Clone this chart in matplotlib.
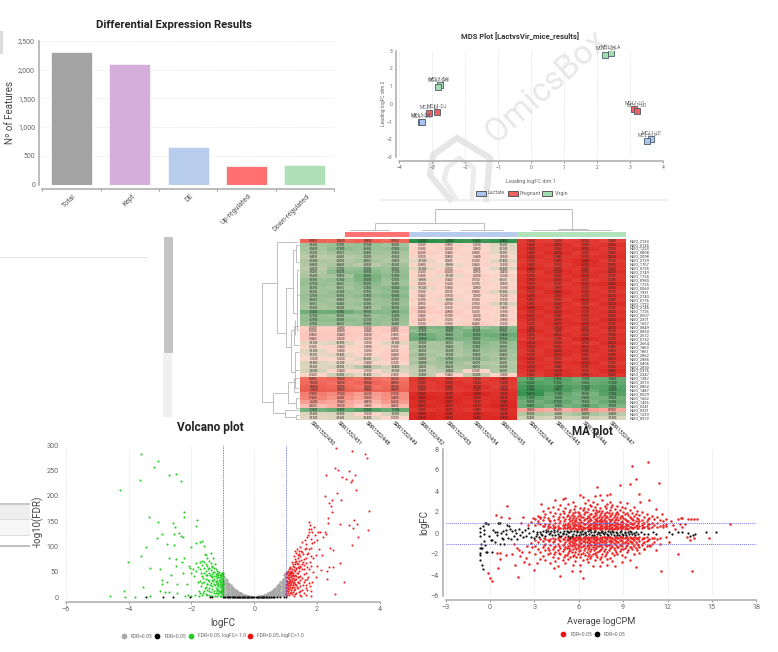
import matplotlib
matplotlib.use("Agg")
import matplotlib.pyplot as plt
from matplotlib.colors import LinearSegmentedColormap
from matplotlib.patches import Rectangle, Polygon

plt.rcParams['font.family'] = ['Roboto', 'DejaVu Sans']

W, H = 778, 652

# bar chart
bar_labels = ["Total", "Kept", "DE", "Up-regulated", "Down-regulated"]
bar_values = [2300, 2100, 660, 315, 345]
bar_colors = ["#a3a3a3", "#d6aedb", "#b8cdee", "#ff7070", "#b0e0b8"]

# MDS plot
mds_lactate = [(-3.33, -1.0, "MCL1-DK"), (-3.32, -1.02, "MCL1-DL"), (3.65, -2.0, "MCL1-LE"), (3.52, -2.1, "MCL1-LF")]
mds_pregnant = [(-3.1, -0.5, "MCL1-DI"), (-2.85, -0.45, "MCL1-DJ"), (3.13, -0.3, "MCL1-LC"), (3.2, -0.42, "MCL1-LD")]
mds_virgin = [(-2.78, 1.08, "MCL1-DG"), (-2.83, 0.97, "MCL1-DH"), (2.25, 2.78, "MCL1-LB"), (2.42, 2.88, "MCL1-LA")]

# heatmap
heat_values = [
    [0.95, 0.92, 0.98, 0.90, -1.52, -1.45, -1.38, -1.44, 1.30, 1.28, 1.33, 1.26],
    [-0.62, -0.70, -0.72, -0.65, 0.12, 0.18, 0.10, -0.16, 1.36, 1.40, 1.32, 1.38],
    [-0.58, -0.78, -0.68, -0.74, 0.15, 0.20, 0.08, -0.12, 1.38, 1.35, 1.40, 1.33],
    [-0.52, -0.60, -0.64, -0.58, 0.22, 0.14, 0.18, -0.10, 1.34, 1.42, 1.30, 1.36],
    [-0.40, -0.46, -0.52, -0.55, 0.10, 0.08, 0.16, 0.05, 1.40, 1.34, 1.37, 1.42],
    [-0.55, -0.50, -0.60, -0.48, -0.12, 0.06, 0.12, -0.14, 1.32, 1.38, 1.44, 1.30],
    [-0.48, -0.56, -0.45, -0.62, 0.18, -0.08, 0.14, 0.10, 1.36, 1.30, 1.41, 1.39],
    [-0.42, -0.70, -0.76, -0.68, -0.15, 0.10, 0.06, -0.18, 1.44, 1.37, 1.34, 1.35],
    [-0.50, -0.82, -0.85, -0.72, 0.12, 0.22, 0.09, 0.04, 1.31, 1.43, 1.38, 1.40],
    [-0.55, -0.58, -0.96, -0.78, 0.16, -0.10, 0.20, 0.12, 1.37, 1.35, 1.42, 1.33],
    [-0.68, -0.75, -0.92, -0.70, -0.08, 0.14, 0.11, -0.06, 1.39, 1.41, 1.30, 1.37],
    [-0.72, -0.66, -0.80, -0.64, 0.20, 0.12, 0.17, 0.09, 1.35, 1.32, 1.40, 1.44],
    [-0.65, -0.60, -0.74, -0.82, -0.12, 0.16, 0.08, 0.13, 1.42, 1.36, 1.33, 1.38],
    [-0.62, -0.72, -0.70, -0.76, 0.10, 0.07, 0.18, -0.15, 1.33, 1.44, 1.37, 1.31],
    [-0.70, -0.68, -0.78, -0.85, 0.14, 0.19, 0.05, 0.12, 1.40, 1.38, 1.35, 1.41],
    [-0.66, -0.58, -0.64, -0.72, 0.17, -0.09, 0.13, 0.11, 1.36, 1.31, 1.43, 1.34],
    [-0.60, -0.64, -0.70, -0.68, 0.09, 0.21, 0.15, -0.17, 1.38, 1.40, 1.30, 1.42],
    [-0.55, -0.62, -0.58, -0.80, 0.24, 0.10, 0.19, 0.16, 1.44, 1.36, 1.39, 1.33],
    [-1.02, -1.05, -0.90, -0.86, 0.30, 0.28, 0.12, 0.15, 1.35, 1.42, 1.37, 1.40],
    [-0.72, -0.68, -0.66, -0.74, 0.14, 0.17, 0.20, 0.08, 1.41, 1.34, 1.38, 1.36],
    [-0.78, -0.80, -0.72, -0.70, 0.22, 0.12, 0.16, 0.18, 1.37, 1.39, 1.33, 1.43],
    [-0.70, -0.66, -0.76, -0.64, 0.11, 0.15, 0.24, 0.10, 1.32, 1.40, 1.42, 1.35],
    [0.22, 0.26, 0.30, 0.24, -0.88, -0.92, -0.70, -0.82, 1.34, 1.38, 1.30, 1.41],
    [0.32, 0.28, 0.24, 0.36, -0.78, -0.84, -0.96, -0.90, 1.42, 1.36, 1.37, 1.33],
    [0.38, 0.34, 0.30, 0.18, -0.98, -0.86, -1.02, -1.04, 1.36, 1.40, 1.35, 1.39],
    [0.34, 0.30, 0.22, 0.28, -1.05, -0.90, -0.88, -0.95, 1.30, 1.33, 1.44, 1.37],
    [-0.12, -0.18, 0.10, -0.15, -0.55, -0.60, -0.82, -0.70, 1.40, 1.37, 1.31, 1.42],
    [0.12, 0.14, 0.18, 0.10, -0.62, -0.58, -0.74, -0.68, 1.38, 1.35, 1.40, 1.34],
    [-0.15, 0.16, 0.12, 0.20, -0.50, -0.55, -0.66, -0.62, 1.33, 1.43, 1.39, 1.36],
    [-0.10, -0.14, 0.10, 0.24, -0.60, -0.52, -0.58, -0.54, 1.37, 1.41, 1.34, 1.38],
    [0.10, 0.12, -0.16, 0.26, -0.48, -0.70, -0.72, -0.60, 1.43, 1.30, 1.36, 1.40],
    [-0.18, -0.12, 0.14, 0.10, -0.58, -0.62, -0.50, -0.46, 1.35, 1.38, 1.42, 1.32],
    [-0.16, -0.20, -0.42, -0.24, -0.40, -0.56, -0.60, -0.52, 1.41, 1.34, 1.37, 1.39],
    [-0.22, 0.14, 0.10, -0.18, -0.36, -0.44, 0.12, -0.50, 1.36, 1.40, 1.33, 1.44],
    [0.12, -0.30, -0.14, 0.16, -0.34, 0.14, -0.32, 0.16, 1.30, 1.42, 1.38, 1.35],
    [0.88, 0.92, 0.85, 0.82, 1.35, 1.30, 1.28, 1.36, -1.10, -1.18, -1.02, -1.08],
    [0.90, 0.86, 0.95, 0.88, 1.28, 1.38, 1.32, 1.30, -1.22, -1.15, -1.06, -1.12],
    [0.96, 0.90, 0.84, 0.92, 1.30, 1.34, 1.40, 1.28, -1.30, -1.26, -1.18, -1.20],
    [1.02, 0.98, 0.94, 0.96, 1.26, 1.30, 1.34, 1.38, -1.38, -1.28, -1.10, -1.24],
    [0.78, 0.72, 0.62, 0.70, 1.45, 1.42, 1.48, 1.40, -1.42, -1.10, -0.96, -1.20],
    [0.74, 0.66, 0.58, 0.68, 1.48, 1.44, 1.40, 1.42, -1.15, -1.02, -1.00, -0.98],
    [0.60, 0.54, 0.48, 0.62, 1.42, 1.46, 1.38, 1.44, -1.00, -1.12, -0.92, -1.06],
    [0.42, 0.50, 0.36, 0.46, 1.46, 1.40, 1.42, 1.48, -1.08, -0.94, -1.04, -0.90],
    [-1.00, -1.08, -1.22, -1.10, 1.36, 1.40, 1.34, 1.38, 0.58, 0.52, 0.60, 0.55],
    [-0.14, -0.18, 0.10, -0.20, 1.48, 1.44, 1.46, 1.42, -0.52, -0.46, -0.58, -0.44],
    [-0.12, -0.16, -0.14, 0.10, 1.50, 1.46, 1.44, 1.48, -0.24, -0.20, -0.26, -0.18],
]
heat_samples = ["SRR1552450", "SRR1552451", "SRR1552448", "SRR1552449", "SRR1552452", "SRR1552453",
                "SRR1552454", "SRR1552455", "SRR1552444", "SRR1552445", "SRR1552446", "SRR1552447"]
heat_genes = ["NEIO_2133", "NEIO_0134", "NEIO_1223", "NEIO_0808", "NEIO_2098", "NEIO_2729", "NEIO_1707", "NEIO_0735",
              "NEIO_2749", "NEIO_1724", "NEIO_0983", "NEIO_1725", "NEIO_0060", "NEIO_1931", "NEIO_2743", "NEIO_0776",
              "NEIO_1722", "NEIO_2745", "NEIO_1726", "NEIO_0507", "NEIO_2371", "NEIO_1657", "NEIO_0849", "NEIO_0853",
              "NEIO_2612", "NEIO_0752", "NEIO_2664", "NEIO_1863", "NEIO_1861", "NEIO_2862", "NEIO_2885", "NEIO_0406",
              "NEIO_2830", "NEIO_2376", "NEIO_2247", "NEIO_1387", "NEIO_2013", "NEIO_0862", "NEIO_1487", "NEIO_0029",
              "NEIO_1662", "NEIO_1426", "NEIO_0241", "NEIO_0321", "NEIO_1229", "NEIO_0972"]

# dendrogram branches, page pixels (x0, y0, x1, y1)
col_tree = [(435, 209, 572, 209), (435, 209, 435, 222.7), (572, 209, 572, 230), (375, 222.7, 484, 222.7),
            (375, 222.7, 375, 230), (484, 222.7, 484, 230), (350, 230, 390, 230), (422, 230, 450, 230),
            (460, 230, 503, 230), (531, 230, 612, 230), (558, 228.5, 588, 228.5)]
row_tree = [(262, 283, 262, 402), (262, 283, 277, 283), (277, 242, 277, 333), (277, 242, 298, 242),
            (277, 333, 286, 333), (286, 288, 286, 347), (286, 288, 293, 288), (293, 250, 293, 313),
            (293, 250, 296, 250), (296, 245, 296, 262), (296, 245, 299, 245), (296, 262, 299, 262),
            (293, 313, 297, 313), (297, 270, 297, 330), (297, 270, 299, 270), (297, 295, 299, 295),
            (297, 330, 299, 330), (295, 320, 295, 335), (286, 347, 291, 347), (291, 330, 291, 372),
            (291, 330, 294, 330), (294, 326, 294, 345), (294, 326, 299, 326), (294, 345, 299, 345),
            (291, 372, 295, 372), (295, 352, 295, 388), (295, 352, 299, 352), (295, 370, 299, 370),
            (295, 388, 299, 388), (262, 402, 273, 402), (273, 393, 273, 413), (273, 393, 288, 393),
            (288, 382, 288, 403), (288, 382, 294, 382), (294, 378, 294, 392), (294, 378, 299, 378),
            (294, 392, 299, 392), (288, 403, 296, 403), (296, 398, 296, 408), (296, 398, 299, 398),
            (296, 408, 299, 408), (273, 413, 285, 413), (285, 410, 285, 417), (285, 410, 299, 410),
            (285, 417, 296, 417), (296, 415, 296, 419), (296, 415, 299, 415), (296, 419, 299, 419)]

# volcano plot
volcano_green = [(-4.58, 3), (-4.27, 212), (-4.13, 13), (-4.1, 1), (-4.02, 69), (-3.8, 1), (-3.62, 283), (-3.64, 232),
    (-3.61, 81), (-3.55, 20), (-3.44, 99), (-3.36, 159), (-3.33, 58), (-3.33, 2), (-3.19, 257), (-3.1, 117),
    (-3.07, 269), (-3.06, 148), (-3.0, 13), (-2.99, 56), (-2.95, 125), (-2.94, 35), (-2.93, 27), (-2.85, 10),
    (-2.79, 105), (-2.78, 31), (-2.72, 241), (-2.7, 78), (-2.65, 43), (-2.7, 10), (-2.6, 147), (-2.57, 103),
    (-2.55, 125), (-2.52, 138), (-2.5, 242), (-2.5, 76), (-2.48, 62), (-2.45, 26), (-2.45, 8), (-2.38, 126),
    (-2.33, 121), (-2.32, 230), (-2.31, 70), (-2.27, 119), (-2.28, 48), (-2.25, 158), (-2.24, 169), (-2.25, 78),
    (-2.2, 3), (-2.15, 27), (-2.12, 4), (-2.09, 62), (-2.06, 58), (-2.02, 100), (-2.0, 48), (-2.0, 2), (-1.95, 55),
    (-1.93, 42), (-1.9, 4), (-1.87, 106), (-1.85, 141), (-1.83, 152), (-1.85, 68), (-1.84, 51), (-1.8, 60), (-1.78, 30),
    (-1.77, 12), (-1.75, 3), (-1.72, 108), (-1.72, 70), (-1.7, 47), (-1.68, 22), (-1.65, 111), (-1.65, 72), (-1.63, 38),
    (-1.62, 8), (-1.61, 102), (-1.6, 58), (-1.58, 86), (-1.57, 18), (-1.55, 83), (-1.55, 44), (-1.53, 66), (-1.52, 27),
    (-1.5, 5), (-1.5, 78), (-1.48, 35), (-1.47, 55), (-1.45, 12), (-1.43, 72), (-1.42, 44), (-1.4, 24), (-1.38, 88),
    (-1.38, 3), (-1.36, 60), (-1.35, 40), (-1.34, 16), (-1.32, 78), (-1.31, 33), (-1.3, 50), (-1.29, 8), (-1.27, 42),
    (-1.26, 24), (-1.25, 65), (-1.24, 2), (-1.22, 46), (-1.21, 30), (-1.2, 14), (-1.19, 38), (-1.18, 52), (-1.17, 22),
    (-1.16, 6), (-1.15, 44), (-1.14, 28), (-1.13, 35), (-1.12, 12), (-1.11, 50), (-1.1, 20), (-1.1, 40), (-1.09, 3),
    (-1.08, 30), (-1.07, 46), (-1.07, 15), (-1.06, 25), (-1.05, 38), (-1.05, 8), (-1.04, 48), (-1.04, 18), (-1.03, 32),
    (-1.03, 42), (-1.02, 22), (-1.02, 12), (-1.01, 36), (-1.01, 28), (-1.01, 4), (-1.0, 45), (-1.0, 16), (-1.0, 26)]
# dense part of the green and red clouds, one x with the y values read above it
volcano_green_cloud = [(-1.72, [9, 33, 55]), (-1.66, [4, 28, 41, 63]), (-1.59, [12, 31, 48, 70]), (-1.54, [7, 21, 36, 52]),
    (-1.49, [14, 26, 44, 62]), (-1.44, [5, 19, 33, 47, 58]), (-1.39, [10, 29, 41, 53, 67]), (-1.33, [3, 22, 35, 46, 62]),
    (-1.28, [13, 27, 37, 49, 57]), (-1.23, [8, 18, 32, 41, 55]), (-1.18, [3, 12, 27, 33, 46]), (-1.14, [8, 17, 24, 40, 47]),
    (-1.09, [11, 26, 34, 44]), (-1.06, [3, 13, 21, 31, 43]), (-1.03, [7, 15, 27, 37, 47]), (-1.01, [10, 19, 24, 33, 41])]
volcano_red_cloud = [(1.02, [8, 15, 25, 40]), (1.04, [5, 18, 33, 47]), (1.07, [12, 22, 29, 52]), (1.1, [4, 17, 37, 43]),
    (1.13, [9, 21, 30, 50, 58]), (1.16, [14, 26, 40, 47]), (1.19, [6, 19, 32, 44, 55]), (1.22, [11, 24, 38, 48, 66]),
    (1.26, [3, 21, 30, 42, 60]), (1.3, [16, 27, 37, 52, 70]), (1.34, [8, 24, 42, 55, 72]), (1.38, [19, 31, 48, 66, 84]),
    (1.42, [11, 28, 40, 58, 92]), (1.47, [5, 22, 35, 60, 82]), (1.52, [15, 38, 66, 90]), (1.57, [9, 30, 56, 76]),
    (1.63, [4, 24, 48, 68, 98]), (1.68, [14, 36, 85, 118]), (1.74, [28, 55, 96, 128]), (1.82, [12, 62, 98, 134])]
volcano_red = [(1.01, 4), (1.01, 20), (1.02, 46), (1.02, 34), (1.03, 27), (1.03, 12), (1.04, 40), (1.05, 30), (1.05, 50),
    (1.06, 18), (1.07, 38), (1.07, 44), (1.08, 24), (1.08, 8), (1.09, 33), (1.1, 48), (1.1, 28), (1.11, 56), (1.12, 40),
    (1.12, 16), (1.13, 35), (1.14, 46), (1.15, 24), (1.15, 60), (1.16, 30), (1.17, 52), (1.18, 42), (1.18, 10), (1.19, 70),
    (1.2, 36), (1.2, 20), (1.21, 50), (1.22, 28), (1.23, 62), (1.24, 44), (1.25, 82), (1.25, 34), (1.26, 14), (1.27, 54),
    (1.28, 92), (1.28, 26), (1.29, 66), (1.3, 44), (1.3, 6), (1.31, 76), (1.32, 36), (1.33, 58), (1.34, 88), (1.35, 48),
    (1.35, 20), (1.36, 68), (1.37, 96), (1.38, 40), (1.39, 60), (1.4, 78), (1.4, 30), (1.41, 52), (1.42, 72), (1.43, 86),
    (1.44, 12), (1.45, 62), (1.46, 100), (1.47, 42), (1.48, 74), (1.5, 92), (1.5, 3), (1.52, 56), (1.53, 108), (1.54, 70),
    (1.55, 25), (1.56, 85), (1.58, 46), (1.59, 64), (1.6, 112), (1.61, 95), (1.62, 34), (1.64, 78), (1.65, 18), (1.66, 105),
    (1.68, 60), (1.7, 122), (1.71, 88), (1.72, 40), (1.74, 135), (1.75, 148), (1.76, 70), (1.77, 142), (1.78, 22), (1.79, 115),
    (1.8, 3), (1.81, 82), (1.83, 30), (1.84, 128), (1.85, 106), (1.87, 50), (1.88, 78), (1.9, 138), (1.91, 108), (1.93, 122),
    (1.95, 84), (1.96, 40), (1.98, 112), (2.0, 62), (2.02, 128), (2.05, 96), (2.08, 128), (2.13, 54), (2.16, 84), (2.2, 118),
    (2.24, 128), (2.26, 199), (2.27, 124), (2.28, 240), (2.3, 52), (2.32, 36), (2.35, 147), (2.36, 156), (2.37, 60), (2.39, 186),
    (2.42, 98), (2.43, 180), (2.46, 168), (2.46, 192), (2.5, 93), (2.52, 60), (2.57, 255), (2.57, 6), (2.61, 295), (2.63, 205),
    (2.65, 251), (2.72, 68), (2.74, 145), (2.75, 192), (2.78, 236), (2.85, 31), (2.91, 234), (3.01, 249), (3.02, 142), (3.07, 227),
    (3.1, 289), (3.1, 232), (3.1, 103), (3.15, 137), (3.17, 153), (3.21, 240), (3.25, 211), (3.27, 144), (3.3, 119), (3.53, 282),
    (3.6, 275), (3.62, 132), (3.64, 170)]
volcano_black = [(-3.45, 0), (-2.9, 0), (-2.58, 0), (-2.06, 0), (-1.4, 0), (-1.36, 1), (-1.0, 0), (-0.96, 1), (-0.92, 0),
    (-0.88, 0), (-0.84, 1), (-0.8, 0), (-0.76, 0), (-0.72, 1), (-0.68, 0), (-0.64, 0), (-0.6, 0), (-0.56, 0), (-0.52, 1),
    (-0.48, 0), (-0.44, 0), (-0.4, 0), (-0.36, 0), (-0.32, 0), (-0.28, 0), (-0.24, 0), (-0.2, 0), (-0.16, 0), (-0.12, 0),
    (-0.08, 0), (-0.04, 0), (0.0, 0), (0.04, 0), (0.08, 0), (0.12, 0), (0.16, 0), (0.2, 0), (0.24, 0), (0.28, 0),
    (0.32, 0), (0.38, 0), (0.42, 1), (0.46, 0), (0.52, 0), (0.58, 0), (0.64, 0), (0.72, 0), (0.82, 0), (0.95, 0), (1.0, 1)]
# gray cloud, one x with the y values read above it
volcano_gray = [(-0.99, [47, 41, 35, 28, 22, 16, 10]), (-0.95, [40, 33, 29, 24, 18, 13, 7]), (-0.91, [36, 31, 26, 20, 15, 9, 5]),
    (-0.87, [34, 27, 23, 18, 14, 8, 4]), (-0.83, [29, 25, 21, 16, 11, 7, 3]), (-0.79, [26, 22, 18, 15, 10, 6, 3]),
    (-0.75, [24, 20, 16, 13, 9, 5, 2]), (-0.71, [21, 18, 15, 11, 8, 5, 2]), (-0.67, [19, 16, 13, 10, 7, 4, 2]),
    (-0.63, [17, 14, 11, 9, 6, 3, 1]), (-0.59, [15, 12, 10, 8, 5, 3, 1]), (-0.55, [13, 11, 9, 7, 4, 2, 1]),
    (-0.51, [11, 9, 7, 6, 4, 2, 1]), (-0.47, [9, 8, 6, 5, 3, 2, 1]), (-0.43, [8, 6, 5, 4, 3, 1]), (-0.39, [7, 5, 4, 3, 2, 1]),
    (-0.35, [5, 4, 3, 2, 1]), (-0.31, [4, 3, 2, 2, 1]), (-0.27, [3, 3, 2, 1]), (-0.23, [3, 2, 1, 1]), (-0.19, [2, 1, 1]),
    (-0.15, [2, 1, 1]), (-0.11, [1, 1]), (0.11, [1, 1]), (0.15, [2, 1, 1]), (0.19, [2, 2, 1]), (0.23, [3, 2, 1]), (0.27, [3, 2, 1, 1]),
    (0.31, [4, 3, 2, 1]), (0.35, [5, 4, 3, 2, 1]), (0.39, [6, 5, 4, 2, 1]), (0.43, [8, 6, 5, 3, 2, 1]), (0.47, [9, 7, 6, 4, 3, 1]),
    (0.51, [10, 9, 7, 5, 4, 2, 1]), (0.55, [12, 10, 8, 6, 4, 2, 1]), (0.59, [14, 12, 9, 7, 5, 3, 1]), (0.63, [16, 13, 11, 8, 6, 3, 1]),
    (0.67, [19, 16, 12, 9, 7, 4, 2]), (0.71, [22, 18, 14, 11, 8, 5, 2]), (0.75, [24, 20, 16, 12, 9, 5, 2]), (0.79, [26, 23, 18, 14, 10, 6, 3]),
    (0.83, [30, 25, 21, 16, 11, 7, 3]), (0.87, [33, 28, 23, 18, 13, 8, 4]), (0.91, [37, 31, 26, 20, 15, 9, 4]), (0.95, [44, 36, 29, 22, 16, 10, 5]),
    (0.99, [48, 40, 33, 26, 19, 12, 6])]

# MA plot
ma_red_sparse = [(10.68, 6.8), (9.62, 6.4), (9.89, 5.15), (8.78, 4.6), (9.46, 4.65), (11.42, 4.75), (7.2, 4.35), (10.05, 3.7), (10.77, 3.15),
    (10.15, 3.0), (1.12, 2.55), (3.47, 2.8), (0.4, 1.75), (0.72, 1.5), (1.28, 1.4), (2.2, 1.5), (2.9, 1.4), (3.35, 1.55), (11.2, 2.3),
    (11.6, 1.8), (11.9, 0.9), (12.2, 1.1), (12.4, 0.8), (12.7, 1.3), (12.9, 1.4), (13.0, 1.45), (13.4, 1.3), (13.6, 1.3), (13.8, 1.35),
    (14.0, 1.3), (16.2, 0.85), (14.8, -0.5), (13.3, -0.4), (13.0, 0.6), (12.7, -2.0), (11.55, -3.65), (13.65, -3.65), (9.9, -3.2), (6.3, -4.3),
    (4.7, -4.05), (1.9, -4.2), (0.15, -4.55), (0.0, -4.25), (-0.15, -3.8), (2.95, -3.55), (5.55, -3.65), (6.1, -3.6), (4.3, -3.3), (0.55, -3.3),
    (1.7, -3.0), (2.6, -2.95), (2.3, -2.8), (3.2, -2.9), (12.1, -0.85), (11.2, -1.65), (10.8, -1.2), (10.4, -1.5), (0.65, -2.5), (0.7, -1.9),
    (1.1, -2.1), (1.5, -2.0), (1.8, -1.4), (2.15, -1.8), (2.4, -2.4), (0.45, -1.95), (13.2, 0.9), (12.5, 0.4), (12.85, 0.9), (13.5, -0.7), (13.8, -0.5),
    (1.62, -1.05), (1.95, -1.62), (2.05, -2.15), (2.48, -1.2), (2.62, -1.78), (2.75, -0.95), (2.82, -1.35), (2.12, 0.92), (2.58, 0.78), (2.78, 1.05)]
# dense red cloud, one x with the y values read above it
ma_red_cloud = [(3.03, [1.3, 0.8, -0.7, -1.2, -2.0]), (3.21, [1.6, 1.1, -0.9, -1.5, 1.0]), (3.38, [0.9, -0.6, -1.8, -2.5, 1.4]),
    (3.56, [2.1, 1.2, 0.7, -0.8, -1.3, -2.2]), (3.72, [1.8, 0.9, -0.6, -1.0, -1.6, -2.6]), (3.9, [1.4, 0.7, 0.5, -0.7, -1.4, -2.0, 2.4]),
    (4.07, [2.0, 1.1, 0.6, -0.6, -1.1, -1.9, -2.9]), (4.23, [2.5, 1.6, 0.8, 0.5, -0.5, -0.9, -1.5, -2.3]), (4.41, [3.1, 1.9, 1.0, 0.6, -0.6, -1.2, -1.8, -2.7]),
    (4.58, [2.3, 1.3, 0.7, 0.4, -0.5, -1.0, -1.6, -2.4, -3.1]), (4.74, [2.7, 1.8, 1.1, 0.5, -0.4, -0.8, -1.4, -2.0]), (4.92, [3.2, 2.1, 1.5, 0.8, 0.5, -0.6, -1.1, -1.7, -2.6]),
    (5.08, [3.3, 2.4, 1.3, 0.9, 0.5, -0.4, -0.9, -1.3, -2.1, -2.9]), (5.25, [2.8, 1.7, 1.0, 0.6, -0.5, -0.7, -1.2, -1.9, -2.5]), (5.43, [2.2, 1.5, 1.1, 0.7, 0.4, -0.4, -0.8, -1.1, -1.6, -2.3]),
    (5.6, [3.0, 1.9, 1.4, 0.8, 0.5, -0.4, -0.7, -1.0, -1.5, -2.2, -3.0]), (5.76, [2.6, 2.0, 1.2, 0.9, 0.5, -0.5, -0.8, -1.3, -1.8, -2.7]), (5.93, [2.0, 1.6, 1.0, 0.7, 0.4, -0.4, -0.6, -1.1, -1.4, -2.0]),
    (6.1, [3.6, 2.4, 1.7, 1.2, 0.8, 0.5, -0.4, -0.7, -1.0, -1.6, -2.3, -3.0]), (6.26, [3.4, 2.2, 1.5, 1.0, 0.6, 0.4, -0.5, -0.8, -1.2, -1.9, -2.6]), (6.43, [2.9, 2.0, 1.3, 0.9, 0.5, -0.4, -0.6, -0.9, -1.4, -2.1]),
    (6.6, [3.1, 2.3, 1.6, 1.1, 0.7, 0.4, -0.4, -0.7, -1.1, -1.5, -2.2, -2.8]), (6.76, [2.7, 1.8, 1.3, 0.9, 0.6, 0.4, -0.5, -0.8, -1.0, -1.7, -2.4]), (6.93, [3.0, 2.2, 1.5, 1.0, 0.7, 0.5, -0.4, -0.6, -0.9, -1.3, -2.0, -3.1]),
    (7.1, [3.5, 2.5, 1.9, 1.3, 0.9, 0.6, 0.4, -0.4, -0.7, -1.0, -1.4, -1.9, -2.6]), (7.26, [2.8, 2.0, 1.4, 1.1, 0.8, 0.5, -0.4, -0.6, -0.9, -1.2, -1.8, -2.3]), (7.43, [3.6, 2.4, 1.7, 1.2, 0.9, 0.6, 0.4, -0.5, -0.8, -1.1, -1.6, -2.5, -3.1]),
    (7.6, [3.1, 2.1, 1.5, 1.1, 0.8, 0.5, -0.4, -0.6, -0.9, -1.3, -2.0, -2.8]), (7.76, [2.6, 1.9, 1.4, 1.0, 0.7, 0.4, -0.4, -0.7, -1.0, -1.5, -2.2]), (7.93, [3.6, 2.8, 2.0, 1.5, 1.0, 0.7, 0.5, -0.4, -0.6, -1.1, -1.8, -2.5, -3.0]),
    (8.1, [3.7, 3.0, 2.2, 1.6, 1.1, 0.8, 0.5, -0.4, -0.7, -1.0, -1.4, -2.4]), (8.26, [2.7, 1.9, 1.3, 0.9, 0.6, 0.4, -0.5, -0.8, -1.2, -1.9, -2.7]), (8.43, [2.3, 1.7, 1.2, 0.8, 0.5, -0.4, -0.7, -1.0, -1.6, -3.1]),
    (8.6, [2.6, 2.0, 1.5, 1.0, 0.7, 0.4, -0.5, -0.9, -1.3, -2.0]), (8.76, [3.0, 2.2, 1.4, 0.9, 0.6, -0.4, -0.7, -1.1, -1.7]), (8.93, [2.5, 1.6, 1.1, 0.8, 0.5, -0.4, -0.8, -1.2, -2.1, -2.8]),
    (9.1, [2.4, 1.8, 1.3, 0.7, 0.4, -0.5, -0.9, -1.4, -2.3]), (9.26, [2.9, 1.9, 1.1, 0.8, 0.5, -0.4, -0.7, -1.1, -1.8]), (9.43, [2.2, 1.5, 1.0, 0.6, -0.4, -0.8, -1.3, -2.6]),
    (9.6, [1.9, 1.3, 0.9, 0.5, -0.5, -0.9, -1.5]), (9.76, [2.5, 1.6, 1.0, 0.6, -0.4, -0.7, -1.2, -2.0]), (9.93, [2.1, 1.4, 0.8, 0.5, -0.5, -1.0, -1.6]),
    (10.1, [1.7, 1.1, 0.7, -0.4, -0.8, -1.3, -1.9]), (10.26, [2.0, 1.2, 0.8, 0.5, -0.6, -1.1]), (10.43, [1.5, 1.0, 0.6, -0.5, -0.9, -1.5]),
    (10.6, [1.8, 1.1, 0.7, -0.4, -0.8, -1.2]), (10.76, [1.4, 0.9, 0.5, -0.6, -1.1]), (10.93, [1.6, 1.0, 0.6, -0.5, -1.0]), (11.1, [1.3, 0.8, -0.5, -0.9]),
    (11.3, [1.5, 1.0, 0.6, -0.6]), (11.5, [1.2, 0.7, -0.5, -1.0]), (11.7, [1.1, 0.6, 0.8]), (11.9, [1.3, 0.7, -0.4])]
# second pass over the densest part, between the columns above
ma_red_cloud_b = [(3.63, [0.63, -0.47, 1.53, -1.17]), (3.97, [0.83, -0.77, 1.27, -1.63]), (4.33, [0.58, 1.23, -0.73, -1.37, -2.03]),
    (4.66, [0.47, 0.96, 1.57, -0.67, -1.23, -1.87]), (5.0, [0.66, 1.17, 1.86, -0.53, -1.03, -1.57, -2.27]), (5.17, [0.43, 0.77, 1.63, -0.63, -1.47, -2.13]),
    (5.34, [0.57, 0.87, 1.36, 2.03, -0.57, -0.93, -1.43, -1.76]), (5.51, [0.46, 0.97, 1.26, 1.73, -0.48, -0.87, -1.27, -1.83]), (5.68, [0.63, 1.07, 1.66, 2.27, -0.56, -0.96, -1.17, -2.06]),
    (5.84, [0.36, 0.76, 1.13, 1.47, -0.36, -0.66, -1.06, -1.53, -2.33]), (6.02, [0.57, 0.93, 1.36, 1.93, -0.47, -0.83, -1.27, -1.73]), (6.18, [0.38, 0.66, 1.06, 1.57, -0.58, -0.93, -1.37, -2.03]),
    (6.35, [0.46, 0.86, 1.23, 1.77, 2.37, -0.36, -0.73, -1.13, -1.62]), (6.52, [0.56, 0.97, 1.43, 1.96, -0.46, -0.86, -1.27, -1.83, -2.47]), (6.68, [0.36, 0.77, 1.17, 1.56, -0.56, -0.96, -1.36, -1.97]),
    (6.85, [0.47, 0.87, 1.27, 1.83, 2.53, -0.37, -0.76, -1.16, -1.56, -2.17]), (7.02, [0.37, 0.74, 1.08, 1.63, -0.47, -0.83, -1.13, -1.66]), (7.18, [0.56, 0.97, 1.27, 1.76, 2.23, -0.36, -0.67, -1.07, -1.47, -2.07]),
    (7.35, [0.43, 0.83, 1.18, 1.57, 2.13, -0.53, -0.93, -1.27, -1.73]), (7.52, [0.37, 0.67, 1.03, 1.37, 1.86, -0.43, -0.77, -1.17, -1.57, -2.27]), (7.68, [0.56, 0.93, 1.26, 1.73, -0.37, -0.73, -1.07, -1.67]),
    (7.85, [0.43, 0.83, 1.17, 1.66, 2.37, -0.47, -0.86, -1.26, -1.97]), (8.02, [0.36, 0.63, 0.97, 1.36, 1.86, -0.36, -0.77, -1.17, -1.63]), (8.18, [0.46, 0.87, 1.27, 1.76, 2.47, -0.47, -0.87, -1.33]),
    (8.35, [0.37, 0.73, 1.07, 1.53, -0.56, -0.96, -1.47, -2.13]), (8.52, [0.56, 0.93, 1.37, 1.87, -0.37, -0.76, -1.17, -1.77]), (8.68, [0.43, 0.83, 1.23, 1.77, -0.47, -0.86, -1.36]),
    (8.85, [0.36, 0.67, 1.07, 1.63, -0.36, -0.67, -1.07, -1.56]), (9.02, [0.53, 0.97, 1.47, 2.03, -0.47, -0.97, -1.57]), (9.18, [0.46, 0.87, 1.27, -0.37, -0.83, -1.27]),
    (9.35, [0.37, 0.77, 1.17, 1.73, -0.53, -0.93, -1.66]), (9.52, [0.56, 0.96, 1.46, -0.46, -0.87, -1.37]), (9.68, [0.43, 0.83, 1.27, -0.57, -1.07]),
    (9.85, [0.63, 1.13, 1.77, -0.43, -0.86, -1.47]), (10.02, [0.47, 0.93, 1.36, -0.53, -1.13]), (10.35, [0.57, 0.97, -0.47, -0.93]), (10.68, [0.47, 0.87, 1.37, -0.63])]
ma_black = [(-0.7, 0.45), (-0.68, 0.05), (-0.65, -0.25), (-0.6, -1.0), (-0.7, -1.4), (-0.62, -1.45), (-0.55, -1.4), (-0.65, -1.9), (-0.68, -2.1),
    (-0.68, -2.6), (-0.55, -3.0), (-0.45, -3.45), (-0.45, 0.7), (-0.4, 0.3), (-0.38, -0.1), (-0.4, -0.8), (-0.35, -1.1), (-0.3, -1.8), (-0.2, -1.8),
    (-0.35, 1.0), (-0.3, 0.95), (-0.15, 0.85), (-0.1, -0.3), (0.05, -0.65), (0.1, -0.7), (0.15, -1.8), (0.2, 0.25), (0.3, -0.9), (0.35, 0.05),
    (0.45, -0.15), (0.5, 0.1), (0.55, 0.95), (0.6, 1.0), (0.65, -1.05), (0.7, 0.95), (0.75, 0.0), (0.8, -0.5), (0.85, 0.2), (0.9, -0.6), (0.95, -1.0),
    (1.05, 0.3), (1.1, -0.1), (1.15, 0.8), (1.2, -0.45), (1.3, 0.7), (1.35, 0.35), (1.4, -0.6), (1.5, 0.15), (1.6, -0.3), (1.7, 0.3), (1.75, 0.0),
    (1.85, -0.55), (1.95, 0.4), (2.05, -0.2), (2.15, 0.1), (2.25, -0.4), (2.35, 0.3), (2.45, -0.25), (2.55, 0.5), (2.65, 0.0), (2.8, -0.35), (2.9, 0.15),
    (3.0, -0.45), (3.1, -0.3), (3.2, -0.1), (3.3, -0.35), (3.4, 0.1), (3.5, -0.2), (3.6, 0.15), (3.7, -0.3), (3.8, 0.05), (3.9, 0.2), (4.0, -0.1),
    (4.1, 0.15), (4.2, -0.2), (4.3, 0.05), (4.4, -0.15), (4.5, 0.2), (4.6, -0.1), (4.7, 0.1), (4.8, -0.25), (4.9, 0.0), (5.0, 0.15), (5.1, -0.1),
    (5.2, 0.2), (5.3, -0.3), (5.35, 0.05), (5.4, -0.45), (5.5, 0.15), (5.6, -0.05), (5.7, 0.2), (5.8, -0.15), (5.9, 0.1), (6.0, -0.2), (6.1, 0.05),
    (6.2, 0.2), (6.3, -0.1), (6.4, 0.1), (6.5, -0.2), (6.6, 0.15), (6.7, -0.05), (6.8, 0.1), (6.9, -0.15), (7.0, 0.05), (7.1, 0.2), (7.2, -0.1),
    (7.3, 0.1), (7.4, -0.2), (7.5, 0.05), (7.6, 0.2), (7.7, -0.1), (7.8, 0.1), (7.9, -0.05), (8.0, -0.2), (8.1, 0.1), (8.2, -0.1), (8.3, 0.05),
    (8.4, -0.15), (8.5, 0.1), (8.6, 0.0), (8.7, -0.15), (8.8, 0.1), (8.9, -0.05), (9.0, -0.2), (9.1, 0.05), (9.2, -0.15), (9.3, 0.1), (9.4, -0.05),
    (9.5, 0.05), (9.6, -0.1), (9.7, 0.0), (9.8, -0.2), (9.9, 0.05), (10.0, -0.1), (10.2, 0.1), (10.4, -0.05), (10.7, -0.1), (11.0, 0.1), (11.2, -0.1),
    (12.1, 0.1), (12.3, -0.05), (13.0, 0.05), (13.4, 0.0), (13.5, -0.3), (13.7, -0.15), (13.85, -0.05), (14.6, 0.1), (15.3, 0.05), (12.7, 0.1),
    (3.15, 0.12), (3.45, -0.13), (3.75, 0.27), (4.05, 0.03), (4.35, 0.24), (4.65, -0.26), (4.95, -0.13), (5.25, 0.07), (5.55, -0.24), (5.85, 0.23),
    (6.15, -0.13), (6.45, -0.03), (6.75, 0.24), (7.05, -0.23), (7.35, -0.03), (7.65, 0.03), (7.95, 0.18), (8.25, 0.17), (8.55, -0.17), (8.85, 0.22), (9.15, -0.03), (9.45, 0.17)]

# faint bits of the surrounding page: x, y, w, h, colour
page_rects = [(164, 237, 9, 116, "#c4c4c4"), (163, 353, 9, 64, "#f0f0f0"), (0, 31, 3, 23, "#dcdcdc"), (0, 504, 30, 16, "#eeeeee"),
              (0, 520, 30, 16, "#f6f6f6"), (0, 503, 30, 1.5, "#c8c8c8"), (0, 519, 30, 1, "#dddddd"), (0, 535, 30, 1, "#dddddd"),
              (0, 545, 30, 1.5, "#c0c0c0"), (0, 257, 148, 1, "#e6e6e6"), (380, 199, 288, 2, "#f0f0f0"), (436, 209, 136, 0.8, "#c4c4c4")]

GRAY = "#666666"
AXIS = "#aaaaaa"


def px_axes(fig, x0, y0, x1, y1):
    # pixel box measured from the top left corner of the picture
    return fig.add_axes([x0 / W, 1 - y1 / H, (x1 - x0) / W, (y1 - y0) / H])


def style_axes(ax, left=True, tick_size=5):
    for s in ["top", "right"]:
        ax.spines[s].set_visible(False)
    ax.spines["bottom"].set_color(AXIS)
    ax.spines["bottom"].set_linewidth(1.1)
    ax.spines["bottom"].set_position(("outward", 3.1))
    ax.spines["left"].set_visible(left)
    ax.spines["left"].set_color(AXIS)
    ax.spines["left"].set_linewidth(1.1)
    ax.spines["left"].set_position(("outward", 2.2))
    ax.tick_params(labelsize=tick_size, colors=GRAY, length=1.5, width=0.5, pad=1.5)
    ax.tick_params(axis="y", length=0, pad=3)
    ax.patch.set_alpha(0)


def expand(cloud):
    xs, ys = [], []
    for x, vals in cloud:
        for v in vals:
            xs.append(x)
            ys.append(v)
    return xs, ys


fig = plt.figure(figsize=(W / 100, H / 100), dpi=100)

page = fig.add_axes([0, 0, 1, 1])
page.set_xlim(0, W)
page.set_ylim(H, 0)
page.axis("off")
for x, y, w, h, c in page_rects:
    page.add_patch(Rectangle((x, y), w, h, fc=c, ec="none"))

# watermark under the MDS plot
page.text(546, 87, "OmicsBox", rotation=42, fontsize=24, color="#e8e8e8", ha="center", va="center", zorder=1)
page.plot([450, 430, 433, 457, 490, 486], [199, 175, 155, 138, 158, 199], color="#e6e6e6", lw=4.5, zorder=1)
page.plot([456, 444, 447, 459, 474, 472], [199, 180, 168, 158, 168, 199], color="#ececec", lw=3.5, zorder=1)

# bar chart
ax = px_axes(fig, 42.3, 41, 334, 184.5)
ax.bar(range(len(bar_values)), bar_values, width=0.7, color=bar_colors, edgecolor="#f4f4f4", linewidth=0.6, zorder=3)
ax.set_xlim(-0.5, 4.5)
ax.set_ylim(0, 2500)
ax.set_yticks([0, 500, 1000, 1500, 2000, 2500])
ax.set_yticklabels(["0", "500", "1,000", "1,500", "2,000", "2,500"])
ax.set_xticks([-0.5, 0.5, 1.5, 2.5, 3.5, 4.5])
ax.set_xticklabels([])
ax.grid(axis="y", color="#e4e4e4", lw=0.6, ls=(0, (1, 1)))
style_axes(ax)
for i, lab in enumerate(bar_labels):
    ax.annotate(lab, (i, 0), xytext=(1, -6), textcoords="offset points", rotation=45, ha="right", va="top",
                rotation_mode="anchor", fontsize=5, color="#555555", annotation_clip=False)
ax.set_ylabel("Nº of Features", fontsize=7, color="#444444", labelpad=2)
page.text(174, 24.5, "Differential Expression Results", fontsize=8.1, fontweight="bold", color="#222222", ha="center", va="center")

# MDS
ax = px_axes(fig, 399.3, 50.7, 663, 157)
ax.set_xlim(-4, 4)
ax.set_ylim(-3, 3)
ax.set_xticks(range(-4, 5))
ax.set_yticks(range(-3, 4))
ax.grid(axis="x", color="#dcdcdc", lw=0.6, ls=(0, (1, 1)))
style_axes(ax, tick_size=3.6)
for pts, col in [(mds_lactate, "#a9c4ee"), (mds_pregnant, "#f26060"), (mds_virgin, "#a3dcae")]:
    xs = [p[0] for p in pts]
    ys = [p[1] for p in pts]
    ax.scatter(xs, ys, marker="s", s=13, c=col, edgecolors="#4a5a6a", linewidths=0.6, zorder=3)
    for x, y, name in pts:
        ax.text(x, y + 0.18, name, fontsize=3.6, color="#666666", ha="center", va="bottom", zorder=4)
ax.set_xlabel("Leading logFC dim 1", fontsize=4, color=GRAY, labelpad=6)
ax.set_ylabel("Leading logFC dim 2", fontsize=3.6, color=GRAY, labelpad=0)
page.text(520, 36, "MDS Plot [LactvsVir_mice_results]", fontsize=5.5, fontweight="bold", color="#333333", ha="center", va="center")
for x, name, col in [(476, "Lactate", "#a9c4ee"), (508, "Pregnant", "#f26060"), (542.5, "Virgin", "#a3dcae")]:
    page.add_patch(Rectangle((x, 190.5), 10, 5, fc=col, ec="#444444", lw=0.6, zorder=3))
    page.text(x + 12, 193, name, fontsize=3.8, color=GRAY, va="center")

# heatmap
heat_cmap = LinearSegmentedColormap.from_list("heat", [
    (0.0, "#1f8a3f"), (0.25, "#8fbc8f"), (0.44, "#d8d4bc"), (0.5, "#fbdcd0"),
    (0.62, "#ffc6bc"), (0.78, "#f06a5c"), (1.0, "#d81c18")])
ax = px_axes(fig, 300, 239, 626, 420)
ax.imshow(heat_values, aspect="auto", cmap=heat_cmap, vmin=-1.6, vmax=1.6, interpolation="nearest")
ax.set_xticks([])
ax.set_yticks([])
for s in ax.spines.values():
    s.set_visible(False)
for r, row in enumerate(heat_values):
    for c, v in enumerate(row):
        ax.text(c, r, f"{v:.4f}", fontsize=2.1, color="#222222", ha="center", va="center")
    ax.text(11.62, r, heat_genes[r], fontsize=2.9, color="#333333", va="center", clip_on=False)
for c, name in enumerate(heat_samples):
    ax.annotate(name, (c, 45.5), xytext=(-0.5, 0), textcoords="offset points", rotation=-45, rotation_mode="anchor",
                fontsize=4.1, color="#222222", ha="left", va="top", annotation_clip=False)
for x0, x1, col in [(345, 409, "#ff7373"), (409, 517.5, "#b8cdee"), (517.5, 626, "#b0e3ba")]:
    page.add_patch(Rectangle((x0, 232), x1 - x0, 4.8, fc=col, ec="none"))
for x0, y0, x1, y1 in col_tree + row_tree:
    page.plot([x0, x1], [y0, y1], color="#b4b4b4", lw=0.6, solid_capstyle="butt")

# volcano
ax = px_axes(fig, 65.7, 445, 380, 597.3)
ax.set_xlim(-6, 4)
ax.set_ylim(0, 300)
ax.set_xticks(range(-6, 5, 2))
ax.set_yticks(range(0, 301, 50))
ax.grid(axis="x", color="#dedede", lw=0.6, ls=(0, (1, 1)))
style_axes(ax, left=False, tick_size=5.2)
gx, gy = expand(volcano_gray)
ax.scatter(gx, gy, s=3.2, c="#a8a8a8", linewidths=0, zorder=2, clip_on=False)
cgx, cgy = expand(volcano_green_cloud)
ax.scatter(cgx, cgy, s=2.2, c="#22cc22", linewidths=0, zorder=3, clip_on=False)
crx, cry = expand(volcano_red_cloud)
ax.scatter(crx, cry, s=2.2, c="#ee2222", linewidths=0, zorder=3, clip_on=False)
for pts, col in [(volcano_green, "#22cc22"), (volcano_red, "#ee2222"), (volcano_black, "#111111")]:
    xs, ys = zip(*pts)
    ax.scatter(xs, ys, s=2.2, c=col, linewidths=0, zorder=3, clip_on=False)
ax.axvline(-1, color="#5555dd", lw=0.6, ls=(0, (1, 1)), zorder=4)
ax.axvline(1, color="#5555dd", lw=0.6, ls=(0, (1, 1)), zorder=4)
ax.set_xlabel("logFC", fontsize=7, color="#444444", labelpad=3.5)
page.text(38, 521, "-log10(FDR)", rotation=90, fontsize=7, color="#444444", ha="center", va="center")
page.text(210, 428, "Volcano plot", fontsize=8.6, fontweight="bold", color="#222222", ha="center", va="center")
for x, name, col in [(123.7, "FDR>0.05", "#a8a8a8"), (157.3, "FDR<0.05", "#000000"),
                     (191.3, "FDR<0.05, logFC<-1.0", "#22cc22"), (250, "FDR<0.05, logFC>1.0", "#ee1111")]:
    page.scatter([x], [636], s=17, c=col, linewidths=0)
    page.text(x + 7, 636, name, fontsize=3.7, color=GRAY, va="center")

# MA
ax = px_axes(fig, 445.7, 449, 756.3, 596)
ax.set_xlim(-3, 18)
ax.set_ylim(-6, 8)
ax.set_xticks(range(-3, 19, 3))
ax.set_yticks(range(-6, 9, 2))
ax.grid(axis="x", color="#dedede", lw=0.6, ls=(0, (1, 1)))
style_axes(ax, tick_size=5.2)
rx, ry = expand(ma_red_cloud + ma_red_cloud_b)
sx, sy = zip(*ma_red_sparse)
ax.scatter(rx + list(sx), ry + list(sy), s=3.2, c="#ee2222", linewidths=0, zorder=2)
bx, by = zip(*ma_black)
ax.scatter(bx, by, s=2.6, c="#111111", linewidths=0, zorder=3)
ax.axhline(1, color="#7777ee", lw=0.7, ls=(0, (1, 1)), zorder=4)
ax.axhline(-1, color="#7777ee", lw=0.7, ls=(0, (1, 1)), zorder=4)
ax.set_xlabel("Average logCPM", fontsize=6.7, color="#444444", labelpad=4)
ax.set_ylabel("logFC", fontsize=7, color="#444444", labelpad=1)
page.text(592, 432, "MA plot", fontsize=8.3, fontweight="bold", color="#222222", ha="center", va="center", zorder=10)
for x, name, col in [(563.5, "FDR<0.05", "#ee1111"), (597, "FDR>0.05", "#000000")]:
    page.scatter([x], [634], s=17, c=col, linewidths=0)
    page.text(x + 7, 634, name, fontsize=3.7, color=GRAY, va="center")

page.set_xlim(0, W)
page.set_ylim(H, 0)
fig.savefig("out.png", dpi=100)
